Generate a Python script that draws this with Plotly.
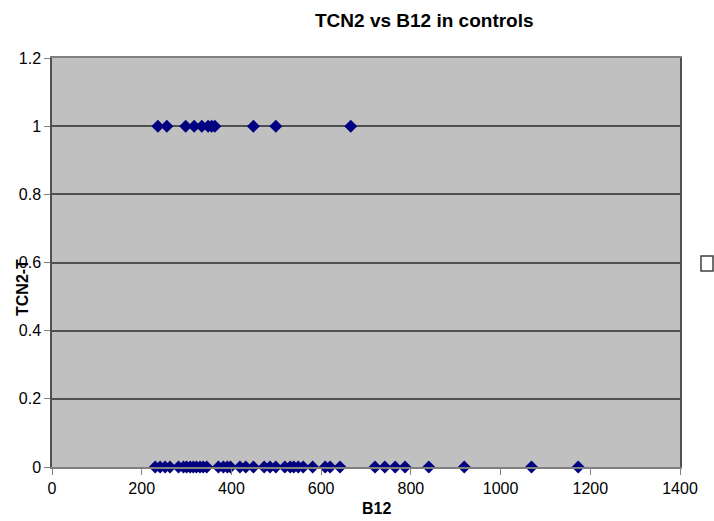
import plotly.graph_objects as go

# B12 values for controls with TCN2-T = 1
b12_pos = [236, 256, 298, 317, 334, 348, 356, 363, 449, 499, 666]
# B12 values for controls with TCN2-T = 0
b12_neg = [230, 241, 252, 263, 282, 293, 300, 308, 315, 322, 330, 337, 345,
           371, 382, 391, 398, 419, 432, 449, 473, 486, 499, 519, 531, 539,
           549, 560, 581, 609, 620, 642, 720, 742, 765, 787, 840, 919, 1069, 1173]

x_vals = b12_pos + b12_neg
y_vals = [1] * len(b12_pos) + [0] * len(b12_neg)

x_ticks = [0, 200, 400, 600, 800, 1000, 1200, 1400]
y_ticks = [0, 0.2, 0.4, 0.6, 0.8, 1.0, 1.2]
y_tick_labels = ["0", "0.2", "0.4", "0.6", "0.8", "1", "1.2"]

fig = go.Figure()
fig.add_trace(go.Scatter(
    x=x_vals, y=y_vals, mode="markers",
    marker=dict(symbol="diamond", size=10, color="#000080",
                line=dict(width=0)),
    showlegend=False, cliponaxis=False,
))

font = dict(family="Liberation Sans, Arial, sans-serif", size=16, color="#000000")

fig.update_layout(
    width=714, height=521,
    margin=dict(l=52, r=34, t=58, b=54),
    paper_bgcolor="#FFFFFF",
    plot_bgcolor="#C0C0C0",
    font=font,
    xaxis=dict(
        range=[0, 1400], tickvals=x_ticks, ticks="outside", ticklen=6,
        tickcolor="#808080", showgrid=False, zeroline=False,
        showline=True, linecolor="#808080", linewidth=1.5, mirror=True,
        tickfont=dict(size=16), fixedrange=True,
    ),
    yaxis=dict(
        range=[0, 1.2], tickvals=y_ticks, ticktext=y_tick_labels,
        ticks="outside", ticklen=6, tickcolor="#808080",
        showgrid=True, gridcolor="#505050", gridwidth=1.5,
        zeroline=False, showline=True, linecolor="#505050", linewidth=1.5,
        mirror=True, tickfont=dict(size=16),
    ),
    annotations=[
        dict(text="<b>TCN2 vs B12 in controls</b>", xref="paper", yref="paper",
             x=(424 - 52) / 628, y=1 + (58 - 21) / 409, showarrow=False,
             font=dict(size=19), xanchor="center", yanchor="middle"),
        dict(text="<b>B12</b>", xref="paper", yref="paper",
             x=(376 - 52) / 628, y=-(509 - 467) / 409, showarrow=False,
             font=dict(size=16), xanchor="center", yanchor="middle"),
        dict(text="<b>TCN2-T</b>", xref="paper", yref="paper",
             x=(22 - 52) / 628, y=(467 - 287) / 409, showarrow=False,
             textangle=-90, font=dict(size=16), xanchor="center", yanchor="middle"),
    ],
    shapes=[
        dict(type="rect", xref="paper", yref="paper",
             x0=(701 - 52) / 628, x1=(713 - 52) / 628,
             y0=(467 - 271) / 409, y1=(467 - 256) / 409,
             line=dict(color="#404040", width=1.5), fillcolor="#FFFFFF"),
    ],
)

fig.write_html("out.html")
